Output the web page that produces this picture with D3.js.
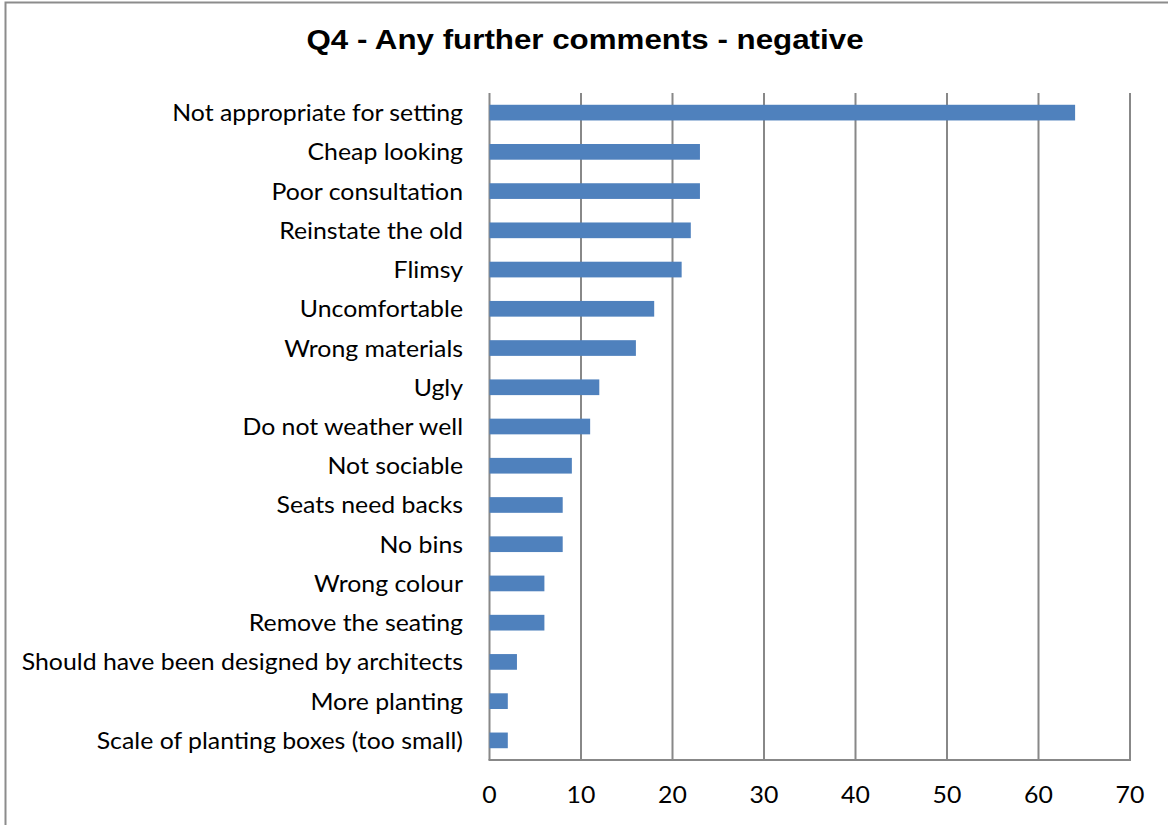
<!DOCTYPE html>
<html>
<head>
<meta charset="utf-8">
<script src="https://cdn.jsdelivr.net/npm/d3@7"></script>
<style>
  html, body { margin: 0; padding: 0; background: #fff; }
  svg { display: block; }
</style>
</head>
<body>
<svg id="chart" width="1168" height="825"></svg>
<script>
// Survey responses: negative further comments (count of mentions)
const categories = [
  "Not appropriate for setting",
  "Cheap looking",
  "Poor consultation",
  "Reinstate the old",
  "Flimsy",
  "Uncomfortable",
  "Wrong materials",
  "Ugly",
  "Do not weather well",
  "Not sociable",
  "Seats need backs",
  "No bins",
  "Wrong colour",
  "Remove the seating",
  "Should have been designed by architects",
  "More planting",
  "Scale of planting boxes (too small)"
];
const counts = [64, 23, 23, 22, 21, 18, 16, 12, 11, 9, 8, 8, 6, 6, 3, 2, 2];
const xTicks = [0, 10, 20, 30, 40, 50, 60, 70];
const title = "Q4 - Any further comments - negative";

const svg = d3.select("#chart");
const labelFont = "Lato, 'Open Sans', sans-serif";
const labelSize = 23;
const labelStretch = 1.08;   // text is drawn slightly wide
const gridColor = "#888888";

const plot = { left: 489.5, right: 1130, top: 93, bottom: 760 };

// chart frame
svg.append("rect")
  .attr("x", 5.5).attr("y", 2.5)
  .attr("width", 1200).attr("height", 900)
  .attr("fill", "#fff")
  .attr("stroke", "#8c8c8c")
  .attr("stroke-width", 2);

// title
svg.append("text")
  .attr("transform", "translate(585,49) scale(1.16,1)")
  .attr("text-anchor", "middle")
  .attr("font-family", "'Liberation Sans', Arial, sans-serif")
  .attr("font-weight", "bold")
  .attr("font-size", 27)
  .attr("fill", "#000")
  .text(title);

const x = d3.scaleLinear().domain([0, 70]).range([plot.left, plot.right]);
const y = d3.scaleBand().domain(categories)
  .range([plot.top, plot.bottom])
  .paddingInner(0.6).paddingOuter(0.3);

// vertical gridlines
svg.append("g").selectAll("line")
  .data(xTicks)
  .join("line")
  .attr("x1", d => x(d)).attr("x2", d => x(d))
  .attr("y1", plot.top).attr("y2", plot.bottom)
  .attr("stroke", gridColor)
  .attr("stroke-width", 2);

// bottom axis line
svg.append("line")
  .attr("x1", plot.left - 1).attr("x2", plot.right + 1)
  .attr("y1", plot.bottom).attr("y2", plot.bottom)
  .attr("stroke", gridColor)
  .attr("stroke-width", 2);

// bars
svg.append("g").selectAll("rect")
  .data(categories.map((c, i) => ({ c, v: counts[i] })))
  .join("rect")
  .attr("x", x(0))
  .attr("y", d => y(d.c))
  .attr("width", d => x(d.v) - x(0))
  .attr("height", y.bandwidth())
  .attr("fill", "#4f81bd");

// category labels
svg.append("g").selectAll("text")
  .data(categories)
  .join("text")
  .attr("transform", d => `translate(463,${y(d) + y.bandwidth() / 2 + 8.5}) scale(${labelStretch},1)`)
  .attr("text-anchor", "end")
  .attr("font-family", labelFont)
  .attr("font-size", labelSize)
  .attr("fill", "#000")
  .text(d => d);

// x tick labels
svg.append("g").selectAll("text")
  .data(xTicks)
  .join("text")
  .attr("transform", d => `translate(${x(d)},803) scale(${labelStretch},1)`)
  .attr("text-anchor", "middle")
  .attr("font-family", labelFont)
  .attr("font-size", labelSize)
  .attr("fill", "#000")
  .text(d => d);
</script>
</body>
</html>
